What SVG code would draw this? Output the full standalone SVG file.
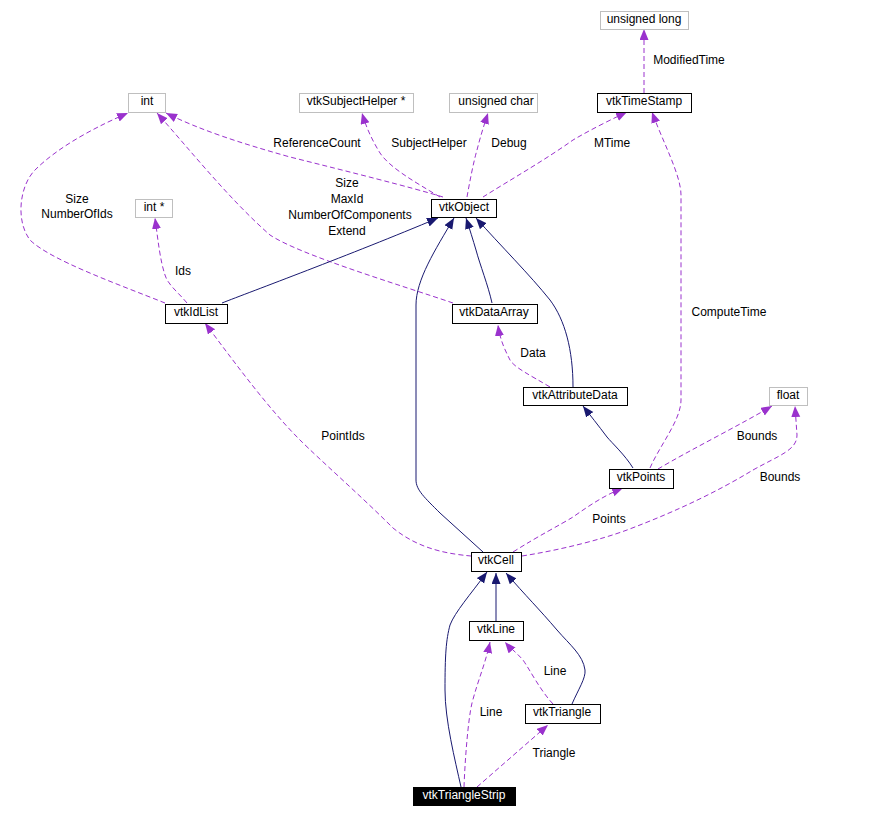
<svg xmlns="http://www.w3.org/2000/svg" width="892" height="818" viewBox="0 0 892 818">
<style>
text{font-family:"Liberation Sans",Arial,sans-serif;font-size:12px;fill:#000}
.n rect{fill:#fff;stroke:#000;stroke-width:1}
.g rect{stroke:#bfbfbf}
.lbl text{text-anchor:middle}
.n text{text-anchor:middle}
.d{fill:none;stroke:#9a32cd;stroke-width:1;stroke-dasharray:5,3;marker-end:url(#ap)}
.s{fill:none;stroke:#191970;stroke-width:1;marker-end:url(#ab)}
</style>
<defs>
<marker id="ap" markerUnits="userSpaceOnUse" markerWidth="12" markerHeight="10" refX="11" refY="4.5" orient="auto"><path d="M0,0 L11,4.5 L0,9 z" fill="#9a32cd"/></marker>
<marker id="ab" markerUnits="userSpaceOnUse" markerWidth="12" markerHeight="10" refX="11" refY="4.5" orient="auto"><path d="M0,0 L11,4.5 L0,9 z" fill="#191970"/></marker>
</defs>
<rect width="892" height="818" fill="#fff"/>
<g id="connectors">
<path class="d" d="M443,197 C410,187 350,172 290,157 C240,143 200,130 166,113"/>
<path class="d" d="M440,197 C415,182 390,168 380,153 C372,140 366,127 362,113"/>
<path class="d" d="M467,197 C470,180 474,160 477,150 C480,138 484,125 488,113"/>
<path class="d" d="M483,197 C510,180 545,160 573,140 C590,130 610,120 627,112"/>
<path class="d" d="M644,93 L644,29"/>
<path class="d" d="M650,468 C660,445 681,420 681,400 L681,195 C681,175 662,140 652,112"/>
<path class="d" d="M165,303 C120,285 50,260 30,240 C15,220 20,185 35,170 C60,145 100,125 128,113"/>
<path class="d" d="M187,303 C178,292 168,285 165,275 C160,260 158,240 155,218"/>
<path class="d" d="M453,303 C400,285 300,255 270,235 C230,200 190,150 157,113"/>
<path class="s" d="M222,303 C250,292 350,255 438,218"/>
<path class="s" d="M492,303 C488,285 480,265 476,250 C473,240 470,230 466,218"/>
<path class="s" d="M573,387 C573,350 565,320 550,300 C530,275 500,245 476,218"/>
<path class="d" d="M550,387 C530,375 515,368 510,360 C505,350 500,340 498,325"/>
<path class="s" d="M633,468 C625,455 612,443 607,437 C598,425 590,415 583,406"/>
<path class="d" d="M658,469 C690,450 740,425 772,406"/>
<path class="d" d="M522,556 C560,550 600,540 627,530 C680,510 720,490 753,470 C780,455 797,450 797,435 L795,406"/>
<path class="d" d="M513,552 C540,535 560,525 573,517 C590,505 605,495 623,488"/>
<path class="d" d="M471,556 C450,554 420,550 393,528 C360,495 320,460 300,440 C270,410 240,370 205,323"/>
<path class="s" d="M483,552 L440,513 C425,498 416,490 416,480 L416,305 C416,280 435,250 454,218"/>
<path class="s" d="M496,621 L496,573"/>
<path class="s" d="M572,704 C578,690 586,678 585,670 C583,655 570,645 557,630 C540,610 525,595 506,573"/>
<path class="s" d="M461,787 C455,760 445,720 445,690 C445,655 446,640 450,625 C455,612 470,595 487,572"/>
<path class="d" d="M464,787 C465,760 468,720 472,703 C478,680 485,665 490,642"/>
<path class="d" d="M553,704 C540,690 530,670 523,660 C516,652 510,648 505,642"/>
<path class="d" d="M477,787 L548,725"/>
</g>
<g class="lbl">
<text x="317" y="147">ReferenceCount</text>
<text x="429" y="147">SubjectHelper</text>
<text x="509" y="147">Debug</text>
<text x="612" y="147">MTime</text>
<text x="689" y="64">ModifiedTime</text>
<text x="729" y="316">ComputeTime</text>
<text x="77" y="203">Size</text>
<text x="77" y="218">NumberOfIds</text>
<text x="183" y="275">Ids</text>
<text x="347" y="187">Size</text>
<text x="347" y="203">MaxId</text>
<text x="350" y="219">NumberOfComponents</text>
<text x="347" y="235">Extend</text>
<text x="533" y="357">Data</text>
<text x="757" y="440">Bounds</text>
<text x="780" y="481">Bounds</text>
<text x="609" y="523">Points</text>
<text x="343" y="440">PointIds</text>
<text x="491" y="716">Line</text>
<text x="555" y="675">Line</text>
<text x="554" y="757">Triangle</text>
</g>
<g id="n-int" class="n g"><rect x="128.5" y="93.5" width="37" height="19"/><text x="147" y="105">int</text></g>
<g id="n-subjecthelper" class="n g"><rect x="299.5" y="93.5" width="114" height="19"/><text x="356" y="105">vtkSubjectHelper *</text></g>
<g id="n-uchar" class="n g"><rect x="449.5" y="93.5" width="88" height="19"/><text x="496" y="105">unsigned char</text></g>
<g id="n-ulong" class="n g"><rect x="600.5" y="11.5" width="88" height="18"/><text x="644" y="23">unsigned long</text></g>
<g id="n-timestamp" class="n"><rect x="597.5" y="93.5" width="94" height="19"/><text x="644" y="105">vtkTimeStamp</text></g>
<g id="n-object" class="n"><rect x="431.5" y="199.5" width="65" height="18"/><text x="464" y="211">vtkObject</text></g>
<g id="n-intptr" class="n g"><rect x="135.5" y="199.5" width="37" height="18"/><text x="154" y="211">int *</text></g>
<g id="n-idlist" class="n"><rect x="165.5" y="304.5" width="62" height="19"/><text x="196" y="316">vtkIdList</text></g>
<g id="n-dataarray" class="n"><rect x="452.5" y="304.5" width="85" height="19"/><text x="494" y="316">vtkDataArray</text></g>
<g id="n-attributedata" class="n"><rect x="523.5" y="387.5" width="104" height="18"/><text x="575" y="399">vtkAttributeData</text></g>
<g id="n-float" class="n g"><rect x="769.5" y="387.5" width="38" height="18"/><text x="788" y="399">float</text></g>
<g id="n-points" class="n"><rect x="609.5" y="469.5" width="64" height="19"/><text x="641" y="481">vtkPoints</text></g>
<g id="n-cell" class="n"><rect x="471.5" y="552.5" width="50" height="19"/><text x="496" y="564">vtkCell</text></g>
<g id="n-line" class="n"><rect x="469.5" y="621.5" width="54" height="19"/><text x="496" y="633">vtkLine</text></g>
<g id="n-triangle" class="n"><rect x="525.5" y="704.5" width="75" height="19"/><text x="562" y="716">vtkTriangle</text></g>
<g id="n-trianglestrip"><rect x="413" y="787" width="103" height="19" fill="#000"/><text x="464" y="799" fill="#fff" text-anchor="middle" style="fill:#fff">vtkTriangleStrip</text></g>
</svg>
